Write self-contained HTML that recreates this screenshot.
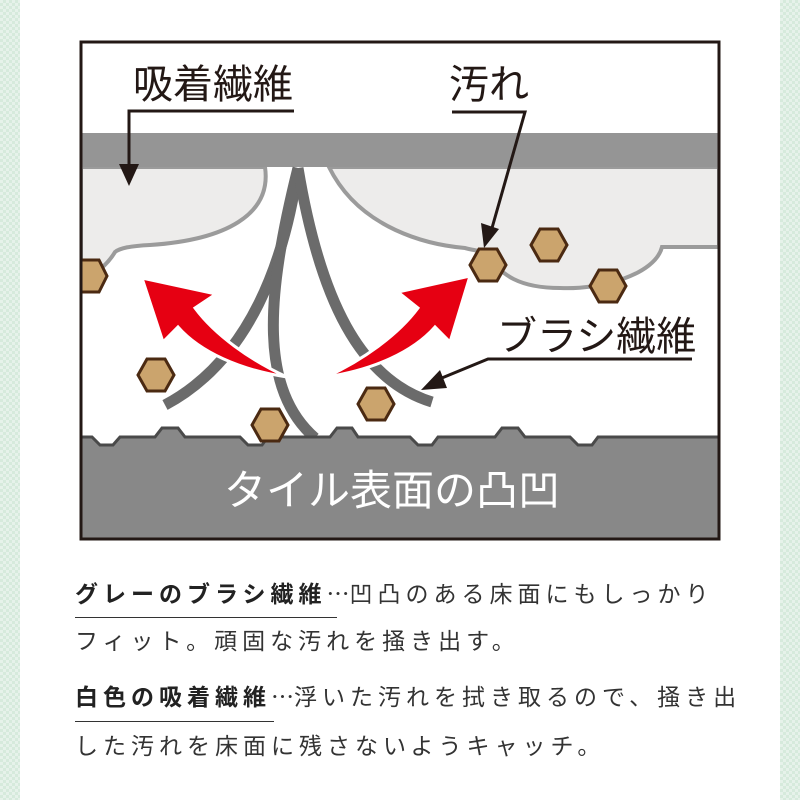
<!DOCTYPE html>
<html><head><meta charset="utf-8"><style>
html,body{margin:0;padding:0;}
body{width:800px;height:800px;position:relative;background:#fff;overflow:hidden;font-family:"Liberation Sans","Noto Sans CJK JP",sans-serif;}
.side{position:absolute;top:0;width:20px;height:800px;background-color:#e6f2ea;background-image:linear-gradient(45deg,#d6eadc 25%,transparent 25%,transparent 75%,#d6eadc 75%),linear-gradient(45deg,#d6eadc 25%,transparent 25%,transparent 75%,#d6eadc 75%);background-size:6px 6px;background-position:0 0,3px 3px;}
.t{position:absolute;left:75px;font-size:23px;letter-spacing:5px;color:#333;white-space:nowrap;line-height:30px;}
.b{font-weight:bold;color:#222;}
.u{position:absolute;left:75px;height:1px;background:#333;}
.e{font-family:"Noto Sans CJK JP",sans-serif;letter-spacing:0;}
</style></head><body>
<div class="side" style="left:0"></div>
<div class="side" style="left:780px"></div>
<svg width="800" height="545" style="position:absolute;left:0;top:0" xmlns="http://www.w3.org/2000/svg">
<defs><clipPath id="c"><rect x="81" y="42" width="638" height="497"/></clipPath></defs>
<rect x="81" y="42" width="638" height="497" fill="#fff"/>
<g clip-path="url(#c)">
<path d="M81,167 L265,167 C272,215 225,240 150,245 C130,246 120,248 115,252 C108,264 95,275 81,282 Z" fill="#edeceb" stroke="#9b9b9b" stroke-width="4"/>
<path d="M329,167 L719,167 L719,247 L662,247 C655,275 600,290 560,288 C520,288 500,275 490,256 C482,250 470,250 465,248 C430,245 360,230 329,167 Z" fill="#edeceb" stroke="#9b9b9b" stroke-width="4"/>
<rect x="81" y="133" width="638" height="34" fill="#959595"/>
<g fill="none" stroke="#6b6b6b" stroke-width="11">
<path d="M298,168 C285,260 250,360 165,405"/>
<path d="M298,168 C265,300 260,390 315,438"/>
<path d="M298,168 C320,300 360,380 432,402"/>
</g>
<g fill="#e60012" stroke="#fff" stroke-width="3" stroke-linejoin="miter">
<path d="M287,377 C240,370 200,352 178,327 L163,342 L142,278 L216,294 L195,308 C215,335 250,360 287,377 Z"/>
<path d="M326,377 C373,370 413,352 435,327 L450,342 L470,276 L398,292 L418,308 C398,335 363,360 326,377 Z"/>
</g>
<path d="M81,437 L92,437 L100,445 L113,445 L120,437 L155,437 L162,428 L178,428 L185,437 L240,437 L248,445 L262,445 L268,437 L330,437 L337,428 L352,428 L358,437 L410,437 L418,445 L432,445 L438,437 L495,437 L502,428 L518,428 L525,437 L570,437 L578,445 L592,445 L598,437 L719,437 L719,539 L81,539 Z" fill="#888" stroke="#4a4a4a" stroke-width="3"/>
<g fill="#cba46d" stroke="#4b2a12" stroke-width="3">
<polygon points="72,276 81,260 99,260 107,276 99,292 81,292"/>
<polygon points="138,375 147,359 165,359 174,375 165,391 147,391"/>
<polygon points="252,425 261,409 279,409 288,425 279,441 261,441"/>
<polygon points="358,404 367,388 385,388 394,404 385,420 367,420"/>
<polygon points="470,265 479,249 497,249 506,265 497,281 479,281"/>
<polygon points="531,245 540,229 558,229 567,245 558,261 540,261"/>
<polygon points="590,286 599,270 617,270 626,286 617,302 599,302"/>
</g>
</g>
<rect x="81" y="42" width="638" height="497" fill="none" stroke="#231815" stroke-width="3"/>
<g font-family="Liberation Sans, Noto Sans CJK JP, sans-serif" fill="#231815">
<text x="133" y="98" font-size="40">吸着繊維</text>
<text x="449" y="98" font-size="40">汚れ</text>
<text x="497" y="350" font-size="40">ブラシ繊維</text>
<text x="224" y="505" font-size="42" fill="#fff">タイル表面の凸凹</text>
</g>
<g stroke="#231815" stroke-width="3" fill="none">
<polyline points="294,111 129,111 129,170"/>
<polyline points="452,112 525,112 492,228"/>
<polyline points="692,359 488,359 437,380"/>
</g>
<g fill="#231815">
<polygon points="119,164 139,164 129,186"/>
<polygon points="481,223 499,229 484,248"/>
<polygon points="440,370 447,388 421,390"/>
</g>
</svg>
<div class="t b" style="top:577px">グレーのブラシ繊維<span style="font-weight:normal;color:#333"><span class="e">…</span>凹凸のある床面にもしっかり</span></div>
<div class="u" style="top:617px;width:262px"></div>
<div class="t" style="top:626px">フィット。頑固な汚れを掻き出す。</div>
<div class="t b" style="top:680px">白色の吸着繊維<span style="font-weight:normal;color:#333"><span class="e">…</span>浮いた汚れを拭き取るので、掻き出</span></div>
<div class="u" style="top:721px;width:199px"></div>
<div class="t" style="top:731px">した汚れを床面に残さないようキャッチ。</div>
</body></html>
